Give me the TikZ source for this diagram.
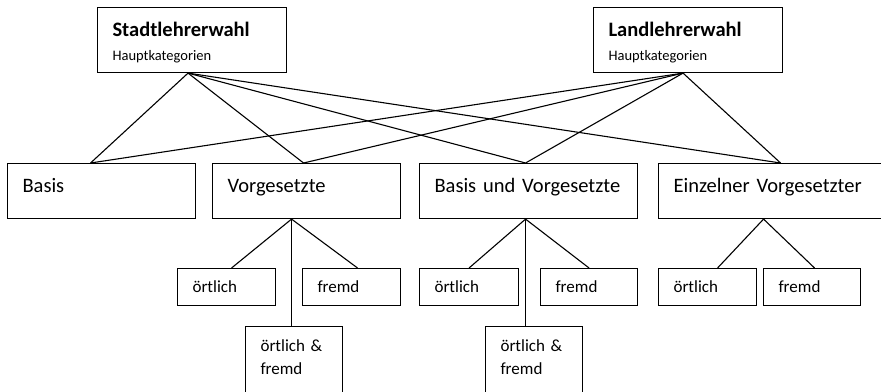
\documentclass[tikz,border=0pt]{standalone}
\usepackage{fontspec}
\setmainfont{Carlito}
\usetikzlibrary{positioning}

\tikzset{
  box/.style={draw=black, line width=1.1pt, anchor=north west, inner xsep=15pt, inner ysep=0pt, align=left},
  wahl/.style={box, text width=159pt, text height=29pt, text depth=36pt, font=\fontsize{20.5}{24}\selectfont},
  kat/.style={box, text width=#1, text height=29pt, text depth=26pt, font=\fontsize{20.5}{24}\selectfont},
  sub/.style={box, text width=#1, text height=24pt, text depth=13pt, font=\fontsize{17}{23}\selectfont},
  subtwo/.style={box, text width=#1, text height=25pt, text depth=55pt, font=\fontsize{17}{23}\selectfont},
  link/.style={line width=1.1pt}
}

\begin{document}
\begin{tikzpicture}[x=1pt,y=-1pt]
\useasboundingbox (0,0) rectangle (881,391);
\clip (0,0) rectangle (881,391);

% Hauptkategorien
\node[wahl] (stadt) at (97,7) {\textbf{Stadtlehrerwahl}\\{\fontsize{14.5}{24}\selectfont Hauptkategorien}};
\node[wahl] (land) at (593,7) {\textbf{Landlehrerwahl}\\{\fontsize{14.5}{24}\selectfont Hauptkategorien}};

% Kategorien
\node[kat=158pt] (basis) at (7,163) {Basis};
\node[kat=158pt] (vorg) at (212,163) {Vorgesetzte};
\node[kat=188pt] (buv) at (419,163) {Basis und Vorgesetzte};
\node[kat=210pt] (einz) at (658,163) {Einzelner Vorgesetzter};

% Unterkategorien
\node[sub=68pt] (vort) at (177,268) {örtlich};
\node[sub=68pt] (vfremd) at (302,268) {fremd};
\node[subtwo=67pt] (vof) at (245,326) {örtlich \&\\fremd};
\node[sub=69pt] (bort) at (419,268) {örtlich};
\node[sub=67pt] (bfremd) at (540,268) {fremd};
\node[subtwo=67pt] (bof) at (485,326) {örtlich \&\\fremd};
\node[sub=68pt] (eort) at (658,268) {örtlich};
\node[sub=67pt] (efremd) at (763,268) {fremd};

\foreach \a/\s in {stadt/-4pt, land/-5pt}
  \foreach \b/\t in {basis/-11pt, vorg/-3pt, buv/-3pt, einz/2pt}
    \draw[link] ([xshift=\s]\a.south) -- ([xshift=\t]\b.north);

\draw[link] ([xshift=-15pt]vorg.south) -- ([xshift=5pt]vort.north);
\draw[link] ([xshift=-15pt]vorg.south) -- ([xshift=6pt]vfremd.north);
\draw[link] ([xshift=-15pt]vorg.south) -- ([xshift=-2.5pt]vof.north);

\draw[link] ([xshift=-3pt]buv.south) -- (bort.north);
\draw[link] ([xshift=-3pt]buv.south) -- (bfremd.north);
\draw[link] ([xshift=-3pt]buv.south) -- ([xshift=-8.5pt]bof.north);

\draw[link] ([xshift=-15pt]einz.south) -- ([xshift=10pt]eort.north);
\draw[link] ([xshift=-15pt]einz.south) -- ([xshift=2.5pt]efremd.north);
\end{tikzpicture}
\end{document}
